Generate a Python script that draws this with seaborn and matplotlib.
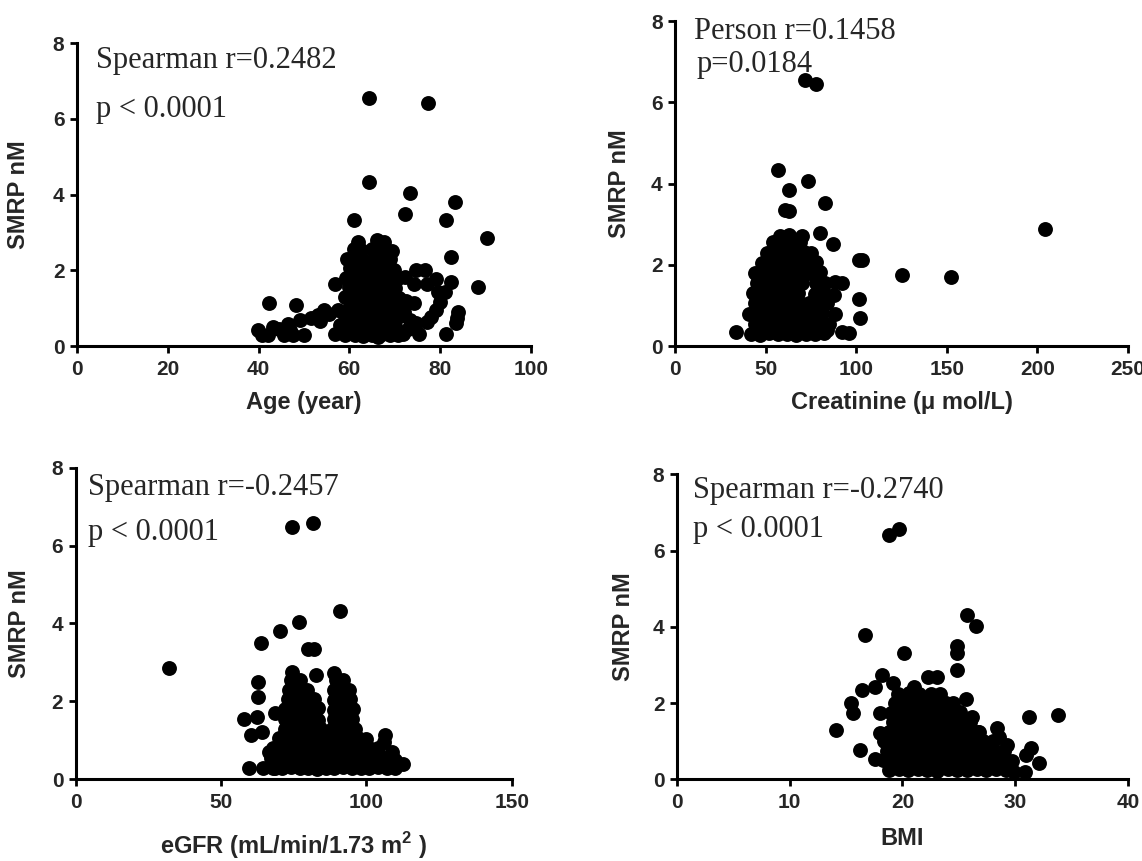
import numpy as np
import pandas as pd
import matplotlib
matplotlib.use("Agg")
import matplotlib.pyplot as plt
import seaborn as sns

# ---- data (SMRP in nM) ----
age = [
    64.3, 77.3, 64.4, 73.4, 83.3, 61.1, 72.2, 81.3, 90.4, 82.4, 82.4, 88.3, 42.2, 48.2, 75.3, 81.3, 74.2, 83.9, 83.6, 83.8, 56.9,
    39.9, 40.8, 42.0, 43.1, 44.5, 46.4, 45.6, 47.6, 50.0, 49.2, 47.0, 51.6, 53.2, 53.6, 55.5, 56.8, 54.5, 58.0, 57.5,
    72.2, 74.6, 76.7, 79.1, 77.1, 74.2, 81.1, 79.9, 79.1, 77.9, 77.1, 73.4, 74.6, 71.8, 79.5, 72.5, 72.0, 73.0,
    59.0, 61.2, 63.0, 65.1, 66.3, 67.2, 69.0, 70.8,
    59.6, 62.1, 64.0, 66.6, 68.2, 70.1,
    59.1, 61.0, 63.2, 65.0, 67.1, 69.4, 71.2,
    60.2, 62.0, 64.1, 66.0, 68.0, 70.2,
    59.0, 61.1, 63.0, 65.2, 67.0, 69.1, 70.9,
    60.0, 62.2, 64.0, 66.1, 68.1, 70.0,
    59.2, 61.0, 63.1, 65.0, 67.2, 69.0, 70.5,
    60.1, 62.0, 64.2, 66.0, 68.0, 69.8,
    59.5, 61.1, 63.0, 65.5, 67.1, 69.0,
    61.0, 62.6, 65.0, 67.0, 69.4,
    62.0, 66.1, 67.6,
]
smrp_age = [
    6.56, 6.43, 4.32, 4.05, 3.81, 3.33, 3.49, 3.33, 2.84, 2.34, 1.70, 1.55, 1.14, 1.08, 0.31, 0.31, 1.14, 0.91, 0.60, 0.75, 1.63,
    0.42, 0.30, 0.29, 0.50, 0.45, 0.57, 0.30, 0.30, 0.30, 0.70, 0.42, 0.75, 0.83, 0.65, 0.85, 0.31, 0.95, 0.55, 0.95,
    1.83, 2.00, 2.00, 1.78, 1.65, 1.65, 1.43, 1.17, 0.95, 0.77, 0.64, 0.68, 0.60, 0.33, 1.43, 1.20, 0.90, 0.45,
    0.28, 0.30, 0.26, 0.29, 0.24, 0.31, 0.28, 0.30,
    0.55, 0.52, 0.57, 0.54, 0.56, 0.53,
    0.80, 0.82, 0.78, 0.81, 0.79, 0.83, 0.80,
    1.05, 1.03, 1.07, 1.04, 1.06, 1.02,
    1.30, 1.32, 1.28, 1.31, 1.29, 1.30, 1.27,
    1.55, 1.53, 1.57, 1.54, 1.56, 1.52,
    1.80, 1.82, 1.78, 1.81, 1.79, 1.80, 1.77,
    2.05, 2.03, 2.07, 2.04, 2.06, 2.02,
    2.30, 2.32, 2.28, 2.31, 2.29, 2.30,
    2.55, 2.53, 2.57, 2.54, 2.52,
    2.76, 2.80, 2.74,
]

creat = [
    71.6, 77.6, 56.8, 73.6, 62.7, 82.5, 60.9, 62.9, 80.1, 87.3, 101.3, 103.3, 125.1, 152.2, 204.0, 88.1, 92.2, 87.7, 101.3, 101.9, 88.5, 92.2, 96.2, 33.6, 84.1,
    42, 47, 52, 57, 62, 67, 72, 77, 82,
    44, 49, 54, 59, 64, 69, 74, 79, 85,
    41, 46, 51, 56, 61, 66, 71, 76, 81,
    44, 49, 54, 59, 64, 69, 74, 79, 84,
    43, 48, 53, 58, 63, 68, 77, 82,
    45, 50, 55, 60, 65, 70, 78, 83,
    44, 49, 54, 59, 64, 69, 74, 80,
    48, 53, 58, 63, 68, 73, 78,
    51, 56, 61, 66, 71, 75,
    54, 59, 64, 69,
    58, 63, 70,
]
smrp_creat = [
    6.56, 6.45, 4.33, 4.06, 3.83, 3.51, 3.35, 3.33, 2.79, 2.50, 2.12, 2.12, 1.75, 1.71, 2.87, 1.58, 1.54, 1.26, 1.16, 0.68, 0.80, 0.34, 0.33, 0.34, 0.40,
    0.30, 0.28, 0.31, 0.29, 0.30, 0.27, 0.30, 0.29, 0.31,
    0.55, 0.57, 0.54, 0.56, 0.55, 0.53, 0.56, 0.55, 0.54,
    0.80, 0.82, 0.79, 0.81, 0.80, 0.78, 0.81, 0.80, 0.82,
    1.05, 1.04, 1.06, 1.05, 1.03, 1.06, 1.05, 1.04, 1.05,
    1.30, 1.31, 1.29, 1.30, 1.32, 1.30, 1.29, 1.31,
    1.55, 1.54, 1.56, 1.55, 1.53, 1.55, 1.56, 1.54,
    1.80, 1.81, 1.79, 1.80, 1.82, 1.79, 1.80, 1.81,
    2.05, 2.04, 2.06, 2.05, 2.03, 2.05, 2.06,
    2.30, 2.31, 2.29, 2.30, 2.32, 2.30,
    2.55, 2.56, 2.54, 2.55,
    2.72, 2.73, 2.71,
]

egfr = [
    74.4, 81.7, 90.9, 76.9, 70.1, 63.7, 79.8, 81.9, 32.2, 82.6, 62.8, 62.8, 57.7, 62.4, 60.3, 64.0, 59.6, 64.4, 68.7, 66.6, 68.5, 106.5, 112.6, 108.8, 106.0, 110.0,
    68, 71, 74, 77, 80, 83, 86, 89, 92, 95, 98, 101, 104, 107, 110,
    67, 70, 73, 76, 79, 82, 85, 88, 91, 94, 97, 100, 103, 106, 109,
    68, 71, 74, 77, 80, 83, 86, 89, 92, 95, 98, 101, 104,
    70, 73, 76, 79, 82, 85, 88, 91, 94, 97, 100,
    72, 75, 78, 81, 84, 88, 91, 94, 96,
    72, 75, 78, 81, 83.5, 89, 92, 95,
    72, 75, 78, 81, 83.5, 89, 92, 95.5,
    73, 76, 79, 82, 89, 92, 94.5,
    73.5, 76.5, 79.5, 89, 92, 94,
    74, 77, 89.5, 92,
    74.5, 89,
]
smrp_egfr = [
    6.47, 6.57, 4.33, 4.05, 3.81, 3.49, 3.34, 3.34, 2.85, 2.69, 2.51, 2.12, 1.54, 1.61, 1.14, 1.22, 0.28, 0.28, 0.28, 0.71, 1.69, 1.14, 0.38, 0.71, 0.95, 0.50,
    0.30, 0.28, 0.31, 0.29, 0.30, 0.27, 0.30, 0.29, 0.31, 0.30, 0.28, 0.30, 0.31, 0.29, 0.30,
    0.55, 0.57, 0.54, 0.56, 0.55, 0.53, 0.56, 0.55, 0.54, 0.56, 0.55, 0.57, 0.54, 0.55, 0.53,
    0.80, 0.82, 0.79, 0.81, 0.80, 0.78, 0.81, 0.80, 0.82, 0.79, 0.80, 0.81, 0.80,
    1.05, 1.04, 1.06, 1.05, 1.03, 1.06, 1.05, 1.04, 1.05, 1.06, 1.04,
    1.30, 1.31, 1.29, 1.30, 1.32, 1.30, 1.29, 1.31, 1.30,
    1.55, 1.54, 1.56, 1.55, 1.53, 1.55, 1.56, 1.54,
    1.80, 1.81, 1.79, 1.80, 1.82, 1.79, 1.80, 1.81,
    2.05, 2.04, 2.06, 2.05, 2.03, 2.05, 2.06,
    2.30, 2.31, 2.29, 2.30, 2.32, 2.30,
    2.55, 2.56, 2.54, 2.55,
    2.75, 2.72,
]

bmi = [
    18.8, 19.7, 25.7, 26.5, 16.7, 20.1, 24.8, 24.8, 24.8, 25.6,
    26.2, 14.1, 15.4, 15.6, 16.4, 16.2, 17.6, 18.0, 18.0, 17.6,
    18.2, 19.2, 31.2, 31.4, 31.0, 33.8, 32.1, 30.9, 29.9, 29.3,
    28.4, 28.6, 26.8, 22.3, 23.1, 21.0, 23.9, 19.7,
    18.8, 19.7, 20.5, 21.4, 22.2, 23.1, 24.0, 24.8, 25.7, 26.6, 27.4, 28.3, 29.2,
    18.3, 19.2, 20.1, 21.0, 21.8, 22.7, 23.6, 24.4, 25.3, 26.2, 27.0, 27.9, 28.8, 29.7,
    18.6, 19.5, 20.3, 21.2, 22.1, 23.0, 23.8, 24.7, 25.6, 26.4, 27.3, 28.2, 29.0,
    18.4, 19.3, 20.2, 21.0, 21.9, 22.8, 23.7, 24.5, 25.4, 26.3, 27.1, 28.0,
    18.8, 19.7, 20.6, 21.5, 22.4, 23.2, 24.1, 25.0, 25.8, 26.7,
    19.2, 20.1, 21.0, 21.8, 22.7, 23.6, 24.5, 25.3, 26.0,
    19.0, 19.9, 20.8, 21.7, 22.6, 23.4, 24.3, 25.1,
    19.3, 20.2, 21.1, 22.0, 22.8, 23.7, 24.5,
    19.6, 20.6, 21.5, 22.5, 23.3,
]
smrp_bmi = [
    6.41, 6.56, 4.31, 4.03, 3.79, 3.32, 3.50, 3.30, 2.87, 2.10,
    1.64, 1.30, 1.99, 1.73, 2.34, 0.77, 0.53, 1.21, 1.73, 2.43,
    2.74, 2.52, 1.64, 0.81, 0.64, 1.69, 0.42, 0.20, 0.20, 0.90,
    1.34, 1.12, 1.25, 2.69, 2.69, 2.43, 1.99, 0.29,
    0.25, 0.27, 0.24, 0.26, 0.25, 0.23, 0.26, 0.25, 0.24, 0.26, 0.25, 0.27, 0.24,
    0.50, 0.52, 0.49, 0.51, 0.50, 0.48, 0.51, 0.50, 0.52, 0.49, 0.50, 0.51, 0.50, 0.49,
    0.75, 0.76, 0.74, 0.75, 0.77, 0.75, 0.74, 0.76, 0.75, 0.74, 0.76, 0.75, 0.74,
    1.00, 1.01, 0.99, 1.00, 1.02, 1.00, 0.99, 1.01, 1.00, 0.99, 1.01, 1.00,
    1.25, 1.26, 1.24, 1.25, 1.27, 1.25, 1.24, 1.26, 1.25, 1.24,
    1.50, 1.51, 1.49, 1.50, 1.52, 1.50, 1.49, 1.51, 1.50,
    1.75, 1.76, 1.74, 1.75, 1.77, 1.75, 1.74, 1.76,
    2.00, 2.01, 1.99, 2.00, 2.02, 2.00, 1.99,
    2.25, 2.26, 2.24, 2.25, 2.24,
]

panels = [
    dict(x=age, y=smrp_age, xlabel="Age (year)", xmax=100, xticks=[0, 20, 40, 60, 80, 100],
         rect=[0.0674, 0.5981, 0.3975, 0.3519], ylab_x=-0.104, xlab_y=-0.208,
         stat=["Spearman r=0.2482", "p < 0.0001"], pos=[(4.2, 7.33), (4.2, 6.05)]),
    dict(x=creat, y=smrp_creat, xlabel="Creatinine (\u03bc mol/L)", xmax=250, xticks=[0, 50, 100, 150, 200, 250],
         rect=[0.5911, 0.5981, 0.3967, 0.3775], ylab_x=-0.097, xlab_y=-0.194,
         stat=["Person r=0.1458", "p=0.0184"], pos=[(10.3, 7.55), (11.8, 6.75)]),
    dict(x=egfr, y=smrp_egfr, xlabel=r"eGFR (mL/min/1.73 m$^\mathbf{2}$ )", xmax=150, xticks=[0, 50, 100, 150],
         rect=[0.0664, 0.0949, 0.3817, 0.3619], ylab_x=-0.103, xlab_y=-0.240,
         stat=["Spearman r=-0.2457", "p < 0.0001"], pos=[(4.2, 7.30), (4.2, 6.14)]),
    dict(x=bmi, y=smrp_bmi, xlabel="BMI", xmax=40, xticks=[0, 10, 20, 30, 40],
         rect=[0.5928, 0.0949, 0.3949, 0.3542], ylab_x=-0.093, xlab_y=-0.215,
         stat=["Spearman r=-0.2740", "p < 0.0001"], pos=[(1.38, 7.39), (1.38, 6.35)]),
]

sns.set_theme(style="white")
plt.rcParams["font.family"] = ["Liberation Sans", "DejaVu Sans"]
plt.rcParams["mathtext.fontset"] = "custom"
plt.rcParams["mathtext.rm"] = "Liberation Sans:bold"
plt.rcParams["mathtext.bf"] = "Liberation Sans:bold"

fig = plt.figure(figsize=(11.42, 8.61), dpi=100)

for p in panels:
    ax = fig.add_axes(p["rect"])
    df = pd.DataFrame({"x": p["x"], "smrp": p["y"]})
    sns.scatterplot(data=df, x="x", y="smrp", ax=ax, color="black", s=115,
                    linewidth=0, clip_on=False, legend=False)
    ax.set_xlim(0, p["xmax"])
    ax.set_ylim(0, 8)
    ax.set_xticks(p["xticks"])
    ax.set_yticks([0, 2, 4, 6, 8])
    sns.despine(ax=ax)
    for side in ["left", "bottom"]:
        ax.spines[side].set_linewidth(2.2)
        ax.spines[side].set_color("black")
    ax.tick_params(axis="both", direction="out", length=5, width=2, color="black",
                   labelsize=15, left=True, bottom=True)
    ax.tick_params(axis="x", pad=5)
    ax.tick_params(axis="y", pad=4)
    for lbl in ax.get_xticklabels() + ax.get_yticklabels():
        lbl.set_fontweight("bold")
    ax.set_xlabel(p["xlabel"], fontsize=17, fontweight="bold", va="baseline")
    ax.set_ylabel("SMRP nM", fontsize=17, fontweight="bold")
    ax.yaxis.set_label_coords(p["ylab_x"], 0.5)
    ax.xaxis.set_label_coords(0.5, p["xlab_y"])
    for txt, (tx, ty) in zip(p["stat"], p["pos"]):
        ax.text(tx, ty, txt, family=["Liberation Serif", "DejaVu Serif"], fontsize=22,
                va="baseline", ha="left")

fig.savefig("out.png", dpi=100)
